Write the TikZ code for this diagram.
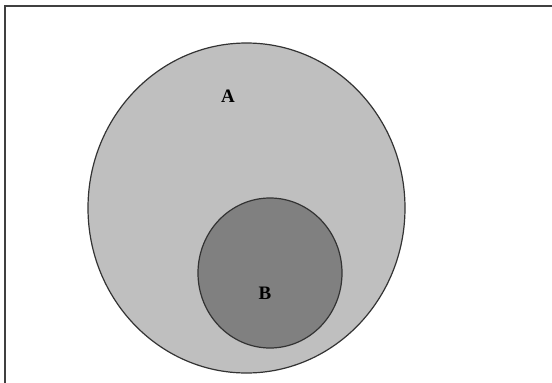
\documentclass[tikz,border=0pt]{standalone}
\usepackage{fontspec}
\setmainfont{Liberation Serif}
\usetikzlibrary{shapes.geometric}
\begin{document}
\begin{tikzpicture}[x=1pt,y=-1pt,
  setA/.style={ellipse,inner sep=0pt,draw=black!80,line width=1.2pt,fill=black!25,minimum width=317pt,minimum height=330pt},
  setB/.style={ellipse,inner sep=0pt,draw=black!80,line width=1.2pt,fill=black!50,minimum width=144pt,minimum height=150pt},
  lbl/.style={font=\bfseries\fontsize{19}{19}\selectfont}]
\useasboundingbox (0,0) rectangle (552,383);
\fill[white] (0,0) rectangle (552,383);
\coordinate (fbl) at (5,383);
\coordinate (ftl) at (5,6);
\coordinate (ftr) at (552,6);
\draw[black!75,line width=2.2pt] (fbl) -- (ftl) -- (ftr);
\node[setA] (A) at (246.5,208) {};
\node[setB] (B) at (270,273) {};
\node[lbl] (la) at (228,96) {A};
\node[lbl] (lb) at (265,293) {B};
\end{tikzpicture}
\end{document}
